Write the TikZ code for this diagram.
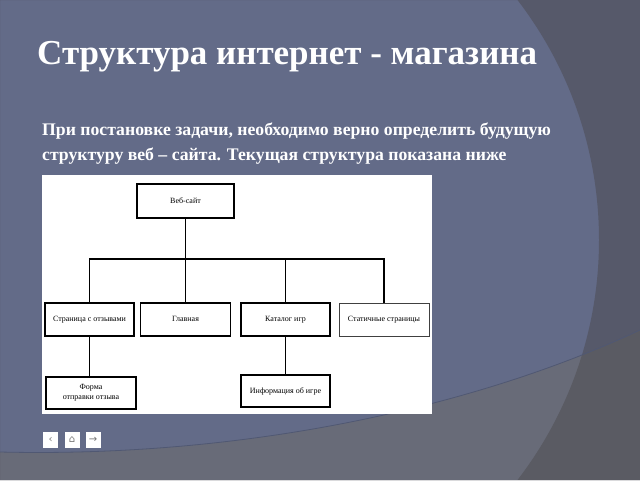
\documentclass[tikz,border=0pt]{standalone}
\usepackage{fontspec}
\setmainfont{Liberation Serif}
\newfontfamily\djfont{DejaVu Sans}
\definecolor{bgblue}{HTML}{636B88}
\definecolor{darkslate}{HTML}{56596A}
\definecolor{bandgray}{HTML}{686B78}
\definecolor{darkband}{HTML}{5A5B63}
\definecolor{bandline}{HTML}{505873}
\definecolor{navgray}{HTML}{777777}
\tikzset{
  box/.style={draw=black, line width=1.6pt, fill=white, minimum width=89pt, minimum height=33pt, inner sep=1pt, align=center, font=\fontsize{8}{10}\selectfont},
  oneline/.style={text height=6pt, text depth=2pt},
  thinbox/.style={box, line width=0.9pt, draw=black!75},
  conn/.style={draw=black, line width=1.3pt, line cap=rect},
  navbtn/.style={fill=white, minimum width=15pt, minimum height=16pt, inner sep=0pt, text=navgray, font=\djfont\fontsize{10}{10}\selectfont},
  titletext/.style={text=white, font=\bfseries\fontsize{35}{38}\selectfont, inner sep=0pt, anchor=base west},
  bodytext/.style={text=white, font=\bfseries\fontsize{17.7}{20}\selectfont, inner sep=0pt, anchor=base west}
}
\begin{document}
\begin{tikzpicture}[x=1pt,y=-1pt]
\useasboundingbox (0,0) rectangle (640,480);
% background
\fill[bgblue] (0,0) rectangle (640,480);
\fill[bandgray] (0,452) .. controls (250,458) and (480,405) .. (640,330) -- (640,480) -- (0,480) -- cycle;
\begin{scope}
  \clip (0,0) -- (640,0) -- (640,330) .. controls (480,405) and (250,458) .. (0,452) -- cycle;
  \fill[darkslate, even odd rule] (0,0) rectangle (640,480) (205,240) circle (394);
\end{scope}
\begin{scope}
  \clip (0,452) .. controls (250,458) and (480,405) .. (640,330) -- (640,480) -- (0,480) -- cycle;
  \fill[darkband, even odd rule] (0,0) rectangle (640,480) (205,240) circle (394);
\end{scope}
\draw[bandline, line width=0.8pt] (0,452) .. controls (250,458) and (480,405) .. (640,330);
% title and text
\node[titletext] (title) at (37,64) {Структура интернет - магазина};
\node[bodytext] (line1) at (42,135) {При постановке задачи, необходимо верно определить будущую};
\node[bodytext] (line2) at (42,160) {структуру веб – сайта. Текущая структура показана ниже};
% white picture area
\fill[white] (42,175) rectangle (432,414);
% boxes
\node[box, oneline, minimum width=97pt, minimum height=34pt] (web) at (185.5,201) {Веб-сайт};
\node[box, oneline, minimum width=90pt] (b2) at (185.5,319.5) {Главная};
\node[box, oneline] (b1) at (89.5,319.5) {Страница с отзывами};
\node[box, oneline] (b3) at (285.5,319.5) {Каталог игр};
\node[thinbox, oneline, minimum width=90pt] (b4) at (384,319.5) {Статичные страницы};
\node[box, minimum width=90pt, minimum height=32pt] (b5) at (91,393) {Форма\\отправки отзыва};
\node[box, oneline, minimum height=32pt] (b6) at (285.5,391) {Информация об игре};
\coordinate (busL) at (89.5,259);
\coordinate (busR) at (384,259);
% connectors
\draw[conn] (web.south) -- (b2.north);
\draw[conn] (busL) -- (busR);
\draw[conn] (b1.north) -- (busL);
\draw[conn] (b3.north) -- (b3.north |- busL);
\draw[conn] (b4.north) -- (busR);
\draw[conn, line width=0.9pt] (b1.south) -- (b1.south |- b5.north);
\draw[conn] (b3.south) -- (b6.north);
% navigation buttons
\node[navbtn] (prev) at (50.5,440) {‹};
\node[navbtn] (home) at (72,440) {⌂};
\node[navbtn] (next) at (93,440) {→};
\end{tikzpicture}
\end{document}
